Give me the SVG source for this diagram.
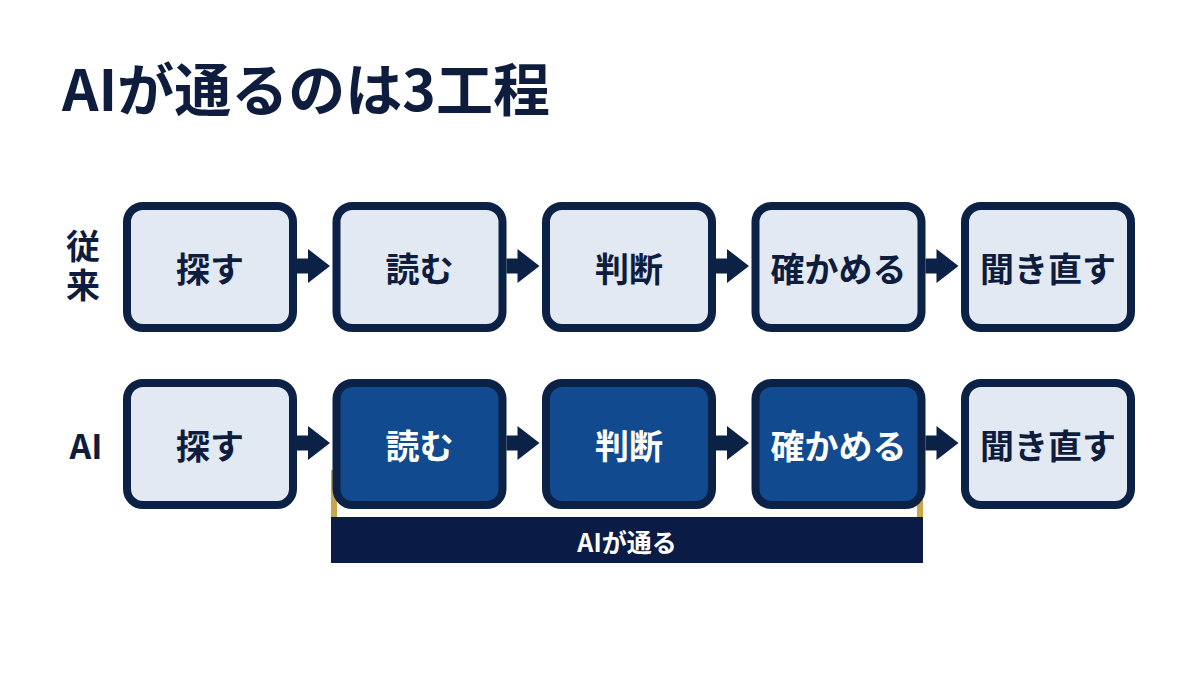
<svg xmlns="http://www.w3.org/2000/svg" width="1200" height="675" viewBox="0 0 1200 675">
<style>
.t{font-family:"Noto Sans CJK JP","Noto Sans",sans-serif;font-weight:700;}
.box{fill:#e3e9f3;stroke:#0b2146;stroke-width:8;}
.dbox{fill:#114a8e;stroke:#0b2146;stroke-width:8;}
.lbl{font-size:34px;fill:#0e1d3d;text-anchor:middle;dominant-baseline:central;}
.dlbl{font-size:34px;fill:#ffffff;text-anchor:middle;dominant-baseline:central;}
.row{font-size:34px;fill:#0e1d3d;}
.arr{fill:#0b2146;}
</style>
<defs>
<path id="arrow" d="M0,-7.5 H11 V-17 L33,0 L11,17 V7.5 H0 Z"/>
</defs>
<rect width="1200" height="675" fill="#ffffff"/>
<text class="t" x="62" y="111" font-size="57" fill="#0e1d3d">AIが通るのは3工程</text>

<g id="rowlabels">
<text class="t row" x="83" y="229" writing-mode="vertical-rl" letter-spacing="5">従来</text>
<text class="t row" x="86" y="444" text-anchor="middle" dominant-baseline="central">AI</text>
</g>

<g id="brace">
<rect x="331" y="470" width="6" height="48" fill="#c9a54e"/>
<rect x="917" y="470" width="6" height="48" fill="#c9a54e"/>
<rect x="331" y="517" width="592" height="46" fill="#0a1b45"/>
<text class="t" x="627" y="541" font-size="25" fill="#ffffff" text-anchor="middle" dominant-baseline="central">AIが通る</text>
</g>

<g id="connectors" class="arr">
<use href="#arrow" x="297" y="266"/>
<use href="#arrow" x="506.5" y="266"/>
<use href="#arrow" x="716" y="266"/>
<use href="#arrow" x="925.5" y="266"/>
<use href="#arrow" x="297" y="443"/>
<use href="#arrow" x="506.5" y="443"/>
<use href="#arrow" x="716" y="443"/>
<use href="#arrow" x="925.5" y="443"/>
</g>

<g id="r1n1"><rect class="box" x="127" y="206" width="166" height="122" rx="16"/><text class="t lbl" x="210" y="267">探す</text></g>
<g id="r1n2"><rect class="box" x="336.5" y="206" width="166" height="122" rx="16"/><text class="t lbl" x="419.5" y="267">読む</text></g>
<g id="r1n3"><rect class="box" x="546" y="206" width="166" height="122" rx="16"/><text class="t lbl" x="629" y="267">判断</text></g>
<g id="r1n4"><rect class="box" x="755.5" y="206" width="166" height="122" rx="16"/><text class="t lbl" x="838.5" y="267">確かめる</text></g>
<g id="r1n5"><rect class="box" x="965" y="206" width="166" height="122" rx="16"/><text class="t lbl" x="1048" y="267">聞き直す</text></g>

<g id="r2n1"><rect class="box" x="127" y="383" width="166" height="122" rx="16"/><text class="t lbl" x="210" y="444">探す</text></g>
<g id="r2n2"><rect class="dbox" x="336.5" y="383" width="166" height="122" rx="16"/><text class="t dlbl" x="419.5" y="444">読む</text></g>
<g id="r2n3"><rect class="dbox" x="546" y="383" width="166" height="122" rx="16"/><text class="t dlbl" x="629" y="444">判断</text></g>
<g id="r2n4"><rect class="dbox" x="755.5" y="383" width="166" height="122" rx="16"/><text class="t dlbl" x="838.5" y="444">確かめる</text></g>
<g id="r2n5"><rect class="box" x="965" y="383" width="166" height="122" rx="16"/><text class="t lbl" x="1048" y="444">聞き直す</text></g>
</svg>
